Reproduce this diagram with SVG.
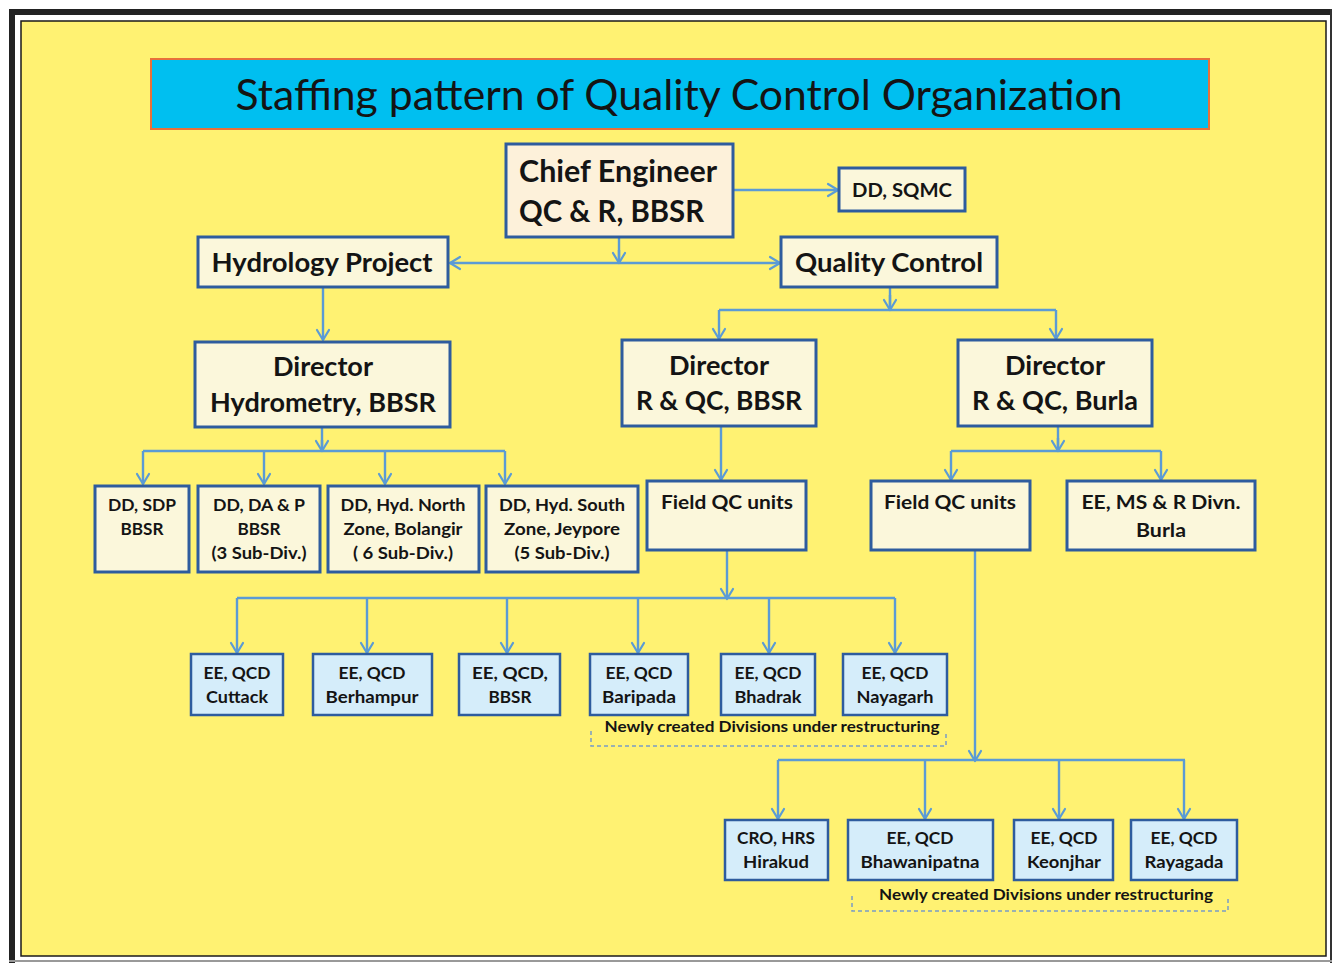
<svg xmlns="http://www.w3.org/2000/svg" width="1335" height="963" viewBox="0 0 1335 963">
  <defs>
    <marker id="open" markerUnits="userSpaceOnUse" markerWidth="16" markerHeight="16" viewBox="0 0 16 16" refX="14" refY="8" orient="auto">
      <path d="M4,2 L14,8 L4,14" fill="none" stroke="#5B9BD5" stroke-width="2.2" stroke-linecap="round" stroke-linejoin="round"/>
    </marker>
    <style>
      .t { font-family: Lato, "Open Sans", "Liberation Sans", sans-serif; font-weight: bold; fill: #141414; text-anchor: middle; }
      .title { font-family: Lato, "Open Sans", "Liberation Sans", sans-serif; font-weight: normal; fill: #141414; text-anchor: middle; }
      .cream { fill: #FBF7DB; stroke: #2E5C9E; stroke-width: 3; }
      .peach { fill: #FDF1DA; stroke: #2E5C9E; stroke-width: 3; }
      .blue { fill: #D5EDFA; stroke: #2E5C9E; stroke-width: 2.5; }
      .c { fill: none; stroke: #5B9BD5; stroke-width: 2.4; }
      .ca { fill: none; stroke: #5B9BD5; stroke-width: 2.4; marker-end: url(#open); }
      .dash { fill: none; stroke: #7A9CC6; stroke-width: 1.5; stroke-dasharray: 4 3; }
    </style>
  </defs>

  <!-- page frame -->
  <rect x="0" y="0" width="1335" height="963" fill="#FFFFFF"/>
  <rect x="9" y="9" width="1323" height="6" fill="#222222"/>
  <rect x="9" y="9" width="6" height="954" fill="#222222"/>
  <rect x="1330" y="9" width="2" height="954" fill="#333333"/>
  <rect x="9" y="960" width="1323" height="2" fill="#999999"/>
  <rect x="21" y="21" width="1305" height="935" fill="#FFF272" stroke="#1A1A1A" stroke-width="1.5"/>

  <!-- heading banner -->
  <g id="title">
    <rect x="151" y="59" width="1058" height="70" fill="#00BFF0" stroke="#E8703A" stroke-width="2"/>
    <text class="title" x="679" y="110" font-size="43" textLength="887" lengthAdjust="spacingAndGlyphs">Staffing pattern of Quality Control Organization</text>
  </g>

  <!-- connectors -->
  <g id="connectors">
    <path class="ca" d="M733,190 H838"/>
    <path class="c" d="M619,237 V263"/>
    <path class="ca" d="M619,263 H450"/>
    <path class="ca" d="M619,263 H780"/>
    <path class="ca" d="M619,250 V263"/>
    <path class="ca" d="M323,287 V340"/>
    <path class="c" d="M890,287 V310 M719,310 H1056"/>
    <path class="ca" d="M890,295 V310"/>
    <path class="ca" d="M719,310 V339"/>
    <path class="ca" d="M1056,310 V339"/>
    <path class="c" d="M322,427 V451 M143,451 H505"/>
    <path class="ca" d="M322,440 V451"/>
    <path class="ca" d="M143,451 V484"/>
    <path class="ca" d="M264,451 V484"/>
    <path class="ca" d="M385,451 V484"/>
    <path class="ca" d="M505,451 V484"/>
    <path class="ca" d="M721,426 V480"/>
    <path class="c" d="M1058,426 V451 M951,451 H1161"/>
    <path class="ca" d="M1058,438 V451"/>
    <path class="ca" d="M951,451 V480"/>
    <path class="ca" d="M1161,451 V480"/>
    <path class="ca" d="M727,550 V599"/>
    <path class="c" d="M237,598 H895"/>
    <path class="ca" d="M237,598 V653"/>
    <path class="ca" d="M367,598 V653"/>
    <path class="ca" d="M507,598 V653"/>
    <path class="ca" d="M638,598 V653"/>
    <path class="ca" d="M769,598 V653"/>
    <path class="ca" d="M895,598 V653"/>
    <path class="ca" d="M975,550 V761"/>
    <path class="c" d="M778,760 H1185"/>
    <path class="ca" d="M778,760 V819"/>
    <path class="ca" d="M925,760 V819"/>
    <path class="ca" d="M1059,760 V819"/>
    <path class="ca" d="M1184,760 V819"/>
  </g>

  <!-- top level -->
  <g id="chief-engineer">
    <rect class="peach" x="506" y="144" width="227" height="93"/>
    <text class="t" x="519" y="182" font-size="30" text-anchor="start" style="text-anchor:start" textLength="198" lengthAdjust="spacingAndGlyphs">Chief Engineer</text>
    <text class="t" x="519" y="222" font-size="30" style="text-anchor:start" textLength="185" lengthAdjust="spacingAndGlyphs">QC &amp; R, BBSR</text>
  </g>
  <g id="dd-sqmc">
    <rect class="cream" x="839" y="168" width="126" height="43"/>
    <text class="t" x="902" y="197" font-size="19" textLength="100" lengthAdjust="spacingAndGlyphs">DD, SQMC</text>
  </g>
  <g id="hydrology-project">
    <rect class="cream" x="198" y="237" width="250" height="50"/>
    <text class="t" x="322" y="272" font-size="27" textLength="221" lengthAdjust="spacingAndGlyphs">Hydrology Project</text>
  </g>
  <g id="quality-control">
    <rect class="cream" x="781" y="237" width="216" height="50"/>
    <text class="t" x="889" y="272" font-size="27" textLength="188" lengthAdjust="spacingAndGlyphs">Quality Control</text>
  </g>

  <!-- directors -->
  <g id="director-hydrometry">
    <rect class="cream" x="195" y="342" width="255" height="85"/>
    <text class="t" x="323" y="376" font-size="27" textLength="100" lengthAdjust="spacingAndGlyphs">Director</text>
    <text class="t" x="323" y="412" font-size="27" textLength="226" lengthAdjust="spacingAndGlyphs">Hydrometry, BBSR</text>
  </g>
  <g id="director-rqc-bbsr">
    <rect class="cream" x="622" y="340" width="194" height="86"/>
    <text class="t" x="719" y="375" font-size="27" textLength="100" lengthAdjust="spacingAndGlyphs">Director</text>
    <text class="t" x="719" y="410" font-size="27" textLength="166" lengthAdjust="spacingAndGlyphs">R &amp; QC, BBSR</text>
  </g>
  <g id="director-rqc-burla">
    <rect class="cream" x="958" y="340" width="194" height="86"/>
    <text class="t" x="1055" y="375" font-size="27" textLength="100" lengthAdjust="spacingAndGlyphs">Director</text>
    <text class="t" x="1055" y="410" font-size="27" textLength="166" lengthAdjust="spacingAndGlyphs">R &amp; QC, Burla</text>
  </g>

  <!-- hydrometry deputy directors -->
  <g id="dd-sdp">
    <rect class="cream" x="95" y="486" width="94" height="86" stroke-width="2.5"/>
    <text class="t" x="142" y="511" font-size="17" textLength="68" lengthAdjust="spacingAndGlyphs">DD, SDP</text>
    <text class="t" x="142" y="535" font-size="17" textLength="43" lengthAdjust="spacingAndGlyphs">BBSR</text>
  </g>
  <g id="dd-dap">
    <rect class="cream" x="198" y="486" width="122" height="86" stroke-width="2.5"/>
    <text class="t" x="259" y="511" font-size="17" textLength="92" lengthAdjust="spacingAndGlyphs">DD, DA &amp; P</text>
    <text class="t" x="259" y="535" font-size="17" textLength="43" lengthAdjust="spacingAndGlyphs">BBSR</text>
    <text class="t" x="259" y="559" font-size="17" textLength="95" lengthAdjust="spacingAndGlyphs">(3 Sub-Div.)</text>
  </g>
  <g id="dd-hyd-north">
    <rect class="cream" x="328" y="486" width="151" height="86" stroke-width="2.5"/>
    <text class="t" x="403" y="511" font-size="17" textLength="125" lengthAdjust="spacingAndGlyphs">DD, Hyd. North</text>
    <text class="t" x="403" y="535" font-size="17" textLength="119" lengthAdjust="spacingAndGlyphs">Zone, Bolangir</text>
    <text class="t" x="403" y="559" font-size="17" textLength="100" lengthAdjust="spacingAndGlyphs">( 6 Sub-Div.)</text>
  </g>
  <g id="dd-hyd-south">
    <rect class="cream" x="486" y="486" width="152" height="86" stroke-width="2.5"/>
    <text class="t" x="562" y="511" font-size="17" textLength="126" lengthAdjust="spacingAndGlyphs">DD, Hyd. South</text>
    <text class="t" x="562" y="535" font-size="17" textLength="116" lengthAdjust="spacingAndGlyphs">Zone, Jeypore</text>
    <text class="t" x="562" y="559" font-size="17" textLength="95" lengthAdjust="spacingAndGlyphs">(5 Sub-Div.)</text>
  </g>

  <!-- field units -->
  <g id="field-qc-bbsr">
    <rect class="cream" x="647" y="481" width="159" height="69" stroke-width="2.5"/>
    <text class="t" x="727" y="509" font-size="19" textLength="132" lengthAdjust="spacingAndGlyphs">Field QC units</text>
  </g>
  <g id="field-qc-burla">
    <rect class="cream" x="871" y="481" width="159" height="69" stroke-width="2.5"/>
    <text class="t" x="950" y="509" font-size="19" textLength="132" lengthAdjust="spacingAndGlyphs">Field QC units</text>
  </g>
  <g id="ee-msr-burla">
    <rect class="cream" x="1067" y="481" width="188" height="69" stroke-width="2.5"/>
    <text class="t" x="1161" y="509" font-size="19" textLength="159" lengthAdjust="spacingAndGlyphs">EE, MS &amp; R Divn.</text>
    <text class="t" x="1161" y="537" font-size="19" textLength="50" lengthAdjust="spacingAndGlyphs">Burla</text>
  </g>

  <!-- divisions under Director R & QC, BBSR -->
  <g id="ee-qcd-cuttack">
    <rect class="blue" x="191" y="654" width="92" height="61"/>
    <text class="t" x="237" y="679" font-size="17" textLength="67" lengthAdjust="spacingAndGlyphs">EE, QCD</text>
    <text class="t" x="237" y="703" font-size="17" textLength="62" lengthAdjust="spacingAndGlyphs">Cuttack</text>
  </g>
  <g id="ee-qcd-berhampur">
    <rect class="blue" x="313" y="654" width="119" height="61"/>
    <text class="t" x="372" y="679" font-size="17" textLength="67" lengthAdjust="spacingAndGlyphs">EE, QCD</text>
    <text class="t" x="372" y="703" font-size="17" textLength="93" lengthAdjust="spacingAndGlyphs">Berhampur</text>
  </g>
  <g id="ee-qcd-bbsr">
    <rect class="blue" x="459" y="654" width="101" height="61"/>
    <text class="t" x="510" y="679" font-size="17" textLength="76" lengthAdjust="spacingAndGlyphs">EE, QCD,</text>
    <text class="t" x="510" y="703" font-size="17" textLength="43" lengthAdjust="spacingAndGlyphs">BBSR</text>
  </g>
  <g id="ee-qcd-baripada">
    <rect class="blue" x="590" y="654" width="98" height="61"/>
    <text class="t" x="639" y="679" font-size="17" textLength="67" lengthAdjust="spacingAndGlyphs">EE, QCD</text>
    <text class="t" x="639" y="703" font-size="17" textLength="74" lengthAdjust="spacingAndGlyphs">Baripada</text>
  </g>
  <g id="ee-qcd-bhadrak">
    <rect class="blue" x="721" y="654" width="94" height="61"/>
    <text class="t" x="768" y="679" font-size="17" textLength="67" lengthAdjust="spacingAndGlyphs">EE, QCD</text>
    <text class="t" x="768" y="703" font-size="17" textLength="67" lengthAdjust="spacingAndGlyphs">Bhadrak</text>
  </g>
  <g id="ee-qcd-nayagarh">
    <rect class="blue" x="843" y="654" width="104" height="61"/>
    <text class="t" x="895" y="679" font-size="17" textLength="67" lengthAdjust="spacingAndGlyphs">EE, QCD</text>
    <text class="t" x="895" y="703" font-size="17" textLength="77" lengthAdjust="spacingAndGlyphs">Nayagarh</text>
  </g>
  <g id="new-divisions-note-1">
    <path class="dash" d="M591,731 V746 H946 V731"/>
    <text class="t" x="772" y="732" font-size="15" textLength="335" lengthAdjust="spacingAndGlyphs">Newly created Divisions under restructuring</text>
  </g>

  <!-- divisions under Director R & QC, Burla -->
  <g id="cro-hrs-hirakud">
    <rect class="blue" x="725" y="820" width="103" height="60"/>
    <text class="t" x="776" y="844" font-size="17" textLength="78" lengthAdjust="spacingAndGlyphs">CRO, HRS</text>
    <text class="t" x="776" y="868" font-size="17" textLength="66" lengthAdjust="spacingAndGlyphs">Hirakud</text>
  </g>
  <g id="ee-qcd-bhawanipatna">
    <rect class="blue" x="848" y="820" width="145" height="60"/>
    <text class="t" x="920" y="844" font-size="17" textLength="67" lengthAdjust="spacingAndGlyphs">EE, QCD</text>
    <text class="t" x="920" y="868" font-size="17" textLength="119" lengthAdjust="spacingAndGlyphs">Bhawanipatna</text>
  </g>
  <g id="ee-qcd-keonjhar">
    <rect class="blue" x="1014" y="820" width="99" height="60"/>
    <text class="t" x="1064" y="844" font-size="17" textLength="67" lengthAdjust="spacingAndGlyphs">EE, QCD</text>
    <text class="t" x="1064" y="868" font-size="17" textLength="74" lengthAdjust="spacingAndGlyphs">Keonjhar</text>
  </g>
  <g id="ee-qcd-rayagada">
    <rect class="blue" x="1131" y="820" width="106" height="60"/>
    <text class="t" x="1184" y="844" font-size="17" textLength="67" lengthAdjust="spacingAndGlyphs">EE, QCD</text>
    <text class="t" x="1184" y="868" font-size="17" textLength="79" lengthAdjust="spacingAndGlyphs">Rayagada</text>
  </g>
  <g id="new-divisions-note-2">
    <path class="dash" d="M852,896 V911 H1228 V896"/>
    <text class="t" x="1046" y="900" font-size="15" textLength="334" lengthAdjust="spacingAndGlyphs">Newly created Divisions under restructuring</text>
  </g>
</svg>
